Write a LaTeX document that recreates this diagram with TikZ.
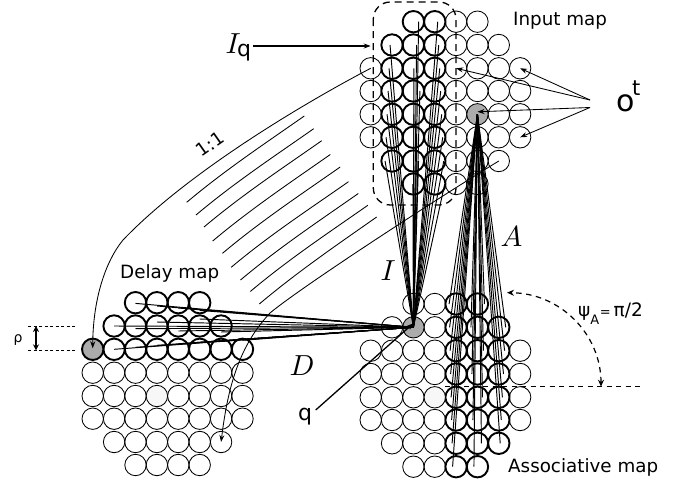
\documentclass[tikz,border=0pt]{standalone}
\usepackage{fontspec}
\setmainfont{DejaVu Sans}
\usetikzlibrary{arrows.meta,calc}
\newcommand{\fs}[1]{\fontsize{#1}{#1}\selectfont}
\tikzset{
  neuron/.style={circle,draw=black,line width=0.85pt,inner sep=0pt,outer sep=0pt,minimum size=21.4pt},
  boldneuron/.style={neuron,line width=1.9pt},
  grayneuron/.style={neuron,fill=black!33},
  faintneuron/.style={neuron,fill=black!3},
  conn/.style={line width=0.95pt},
  curve/.style={line width=0.85pt},
  tip/.style={-{Stealth[length=7pt,width=5pt]}},
  dashline/.style={line width=1.2pt,dash pattern=on 5.5pt off 4.5pt},
  txt/.style={inner sep=0pt,anchor=base west,font=\fs{18.3}},
  mathlbl/.style={inner sep=0pt,anchor=base west,scale=2.9}
}
\begin{document}
\begin{tikzpicture}[x=1pt,y=-1pt]
\useasboundingbox (0,0) rectangle (686,479);
% ---------- row positions
\def\iy#1{\ifcase#1 21.7\or 45\or 68.3\or 91\or 114.3\or 137.3\or 161\or 184\fi}
\def\ay#1{\ifcase#1 304\or 327.3\or 350.7\or 374\or 397.3\or 420\or 443.3\or 466.7\fi}
\def\dy#1{\ifcase#1 302.7\or 326\or 349.3\or 372.7\or 396\or 418.7\or 442\or 465\fi}
% ---------- input map
\foreach \r/\l in {0/{4,5},1/{4,5,6},2/{0,4,5,6,7},3/{0,4,5,6,7},4/{0,4,6,7},5/{0,4,5,6,7},6/{4,5,6},7/{4,5}}
  \foreach \c in \l \node[neuron] (i-\r-\c) at ({370.7+21.35*\c},\iy{\r}) {};
\foreach \r/\l in {0/{2,3},1/{1,2,3},2/{1,2,3},3/{1,2,3},4/{1,2,3},5/{1,2,3},6/{1,2,3},7/{2,3}}
  \foreach \c in \l \node[boldneuron] (i-\r-\c) at ({370.7+21.35*\c},\iy{\r}) {};
\node[grayneuron] (i-4-5) at ({370.7+21.35*5},\iy{4}) {};
% ---------- associative map
\foreach \r/\l in {0/{2,3},1/{1,3},2/{0,1,2,3,7},3/{0,1,2,3,7},4/{0,1,2,7},5/{0,1,2,3,7},6/{1,2,3},7/{2,3}}
  \foreach \c in \l \node[neuron] (a-\r-\c) at ({370.7+21.35*\c},\ay{\r}) {};
\foreach \r/\l in {0/{4,5},1/{4,5,6},2/{4,5,6},3/{4,5,6},4/{4,5,6},5/{4,5,6},6/{4,5,6},7/{4,5}}
  \foreach \c in \l \node[boldneuron] (a-\r-\c) at ({370.7+21.35*\c},\ay{\r}) {};
\node[grayneuron] (a-1-2) at ({370.7+21.35*2},\ay{1}) {};
\node[faintneuron] (a-4-3) at ({370.7+21.35*3},\ay{4}) {};
% ---------- delay map
\foreach \r/\l in {3/{0,1,2,3,4,5,6,7},4/{0,1,2,4,5,6,7},5/{0,1,2,3,4,5,6,7},6/{1,2,3,4,5,6},7/{2,3,4,5}}
  \foreach \c in \l \node[neuron] (d-\r-\c) at ({92.7+21.4*\c},\dy{\r}) {};
\foreach \r/\l in {0/{2,3,4,5},1/{1,2,3,4,5,6},2/{1,2,3,4,5,6,7}}
  \foreach \c in \l \node[boldneuron] (d-\r-\c) at ({92.7+21.4*\c},\dy{\r}) {};
\node[boldneuron,fill=black!33] (d-2-0) at (92.7,\dy{2}) {};
\node[faintneuron] (d-4-3) at ({92.7+21.4*3},\dy{4}) {};
% ---------- connections
\foreach \r/\l in {0/{2,3},1/{1,2,3},2/{1,2,3},3/{1,2,3},4/{1,2,3},5/{1,2,3},6/{1,2,3},7/{2,3}}
  \foreach \c in \l {
    \pgfmathsetmacro\jx{\c==1 ? -1-1.0*\r : (\c==2 ? 3+3.5*sin(137*\r+40) : 3+1.0*\r)}
    \draw[conn] ([xshift=\jx pt]i-\r-\c.center) -- (a-1-2.center);
  }
\foreach \r/\l in {0/{4,5},1/{4,5,6},2/{4,5,6},3/{4,5,6},4/{4,5,6},5/{4,5,6},6/{4,5,6},7/{4,5}}
  \foreach \c in \l {
    \pgfmathsetmacro\jx{\c==4 ? -7+0.5*\r : (\c==5 ? cos(180*\r)*(7-0.5*\r) : 8-1.1*\r)}
    \draw[conn] ([xshift=\jx pt]a-\r-\c.center) -- (i-4-5.center);
  }
\foreach \c/\s in {2/-0.7,3/-3.3,4/-5.3,5/-7.7}
  \draw[conn] ([yshift=\s pt]d-0-\c.center) -- (a-1-2.center);
\foreach \c/\s in {1/0,2/-2.7,3/4,4/-5,5/7,6/-6}
  \draw[conn] ([yshift=\s pt]d-1-\c.center) -- (a-1-2.center);
\foreach \c/\s in {1/0,2/2,3/4,4/5.5,5/7,6/8,7/9}
  \draw[conn] ([yshift=\s pt]d-2-\c.center) -- (a-1-2.center);
% ---------- parallel mapping curves
\foreach \i/\sx/\sy/\ex/\ey in {
  1/304.3/116/186.7/202.3, 2/313.7/128.7/196/215, 3/321.7/140.7/204/227,
  4/330.3/154.5/212.7/241, 5/340.2/167/222.5/253.3, 6/348.5/181.7/231.2/267.3,
  7/358.3/193.5/240.5/280, 8/367.8/205.3/250.3/291.5, 9/376.7/217/259.3/304}{
  \coordinate (ms\i) at (\sx,\sy);
  \coordinate (me\i) at (\ex,\ey);
  \draw[curve] (ms\i) .. controls ($(ms\i)+(-40,28)$) and ($(me\i)+(38,-32)$) .. (me\i);
}
\draw[curve,tip] (i-2-0.center) .. controls (310,100) and (190,170) .. (123,240)
   .. controls (105,262) and (93,300) .. ([yshift=1pt]d-2-0.center);
\draw[curve,tip] (i-6-6.center) .. controls (430,203) and (300,288) .. (270,313)
   .. controls (240,345) and (228,385) .. (d-6-6.center);
% ---------- dashed region
\draw[line width=1.3pt,dash pattern=on 7pt off 5pt,rounded corners=17pt] (373.3,2) rectangle (456,205);
% ---------- labels
\node[mathlbl] (lI) at (225,53) {$I$};
\node[inner sep=0pt,anchor=base west,font=\fs{22}] (lq) at (237,56.7) {q};
\coordinate (lqa) at (253,46);
\draw[line width=1.3pt,tip] (lqa) -- (370.7,46);
\node[txt] (linput) at (513,25) {Input map};
\node[txt] (ldelay) at (120,278) {Delay map};
\node[txt] (lassoc) at (508,472) {Associative map};
\node[inner sep=0pt,anchor=base west,font=\fs{30}] (lo) at (616,111.7) {o};
\node[inner sep=0pt,anchor=base west,font=\fs{21}] (lt) at (632,95) {t};
\coordinate (ot1) at (590,100);
\coordinate (ot2) at (590,107.5);
\draw[curve,tip] (ot1) -- (i-2-7.center);
\draw[curve,tip] (ot1) -- (i-2-4.center);
\draw[curve,tip] (ot2) -- ([yshift=2.5pt]i-4-5.center);
\draw[curve,tip] (ot2) -- (i-5-7.center);
\node[inner sep=0pt,rotate=35,font=\fs{18}] (l11) at (210,144) {1:1};
\node[mathlbl] (lA) at (500,246) {$A$};
\node[mathlbl] (lII) at (380,280) {$I$};
\node[mathlbl] (lD) at (289,375) {$D$};
\node[inner sep=0pt,anchor=base west,font=\fs{22}] (lqq) at (298,420) {q};
\coordinate (qs) at (315.7,410);
\draw[line width=1.3pt,tip] (qs) -- ([yshift=4pt]a-1-2.center);
\node[inner sep=0pt,font=\fs{14}] (lrho) at (18,340) {ρ};
\coordinate (r1a) at (28,326); \coordinate (r1b) at (75,326);
\coordinate (r2a) at (28,350.3); \coordinate (r2b) at (75,350.3);
\draw[line width=1pt,dash pattern=on 3pt off 2.5pt] (r1a) -- (r1b);
\draw[line width=1pt,dash pattern=on 3pt off 2.5pt] (r2a) -- (r2b);
\draw[line width=1.2pt,{Stealth[length=6pt,width=6pt]}-{Stealth[length=6pt,width=6pt]}] (36,326) -- (36,350.3);
\node[inner sep=0pt,anchor=base west] (lpsi) at (578,316.7) {\fs{18.5}ψ\raisebox{-8pt}{\fs{13}A}\hspace{0.5pt}\fs{13}=\hspace{3pt}\fs{18.5}π/2};
\coordinate (h1) at (445,386); \coordinate (h2) at (640,386);
\draw[line width=0.9pt,dash pattern=on 5pt off 4.5pt] (h1) -- (h2);
\coordinate (ar1) at (601,386.7); \coordinate (ar2) at (507,292.7);
\draw[dashline,{Stealth[length=7pt,width=6pt]}-{Stealth[length=7pt,width=6pt]}] (ar1) .. controls (601,334) and (560,293) .. (ar2);
\end{tikzpicture}
\end{document}
